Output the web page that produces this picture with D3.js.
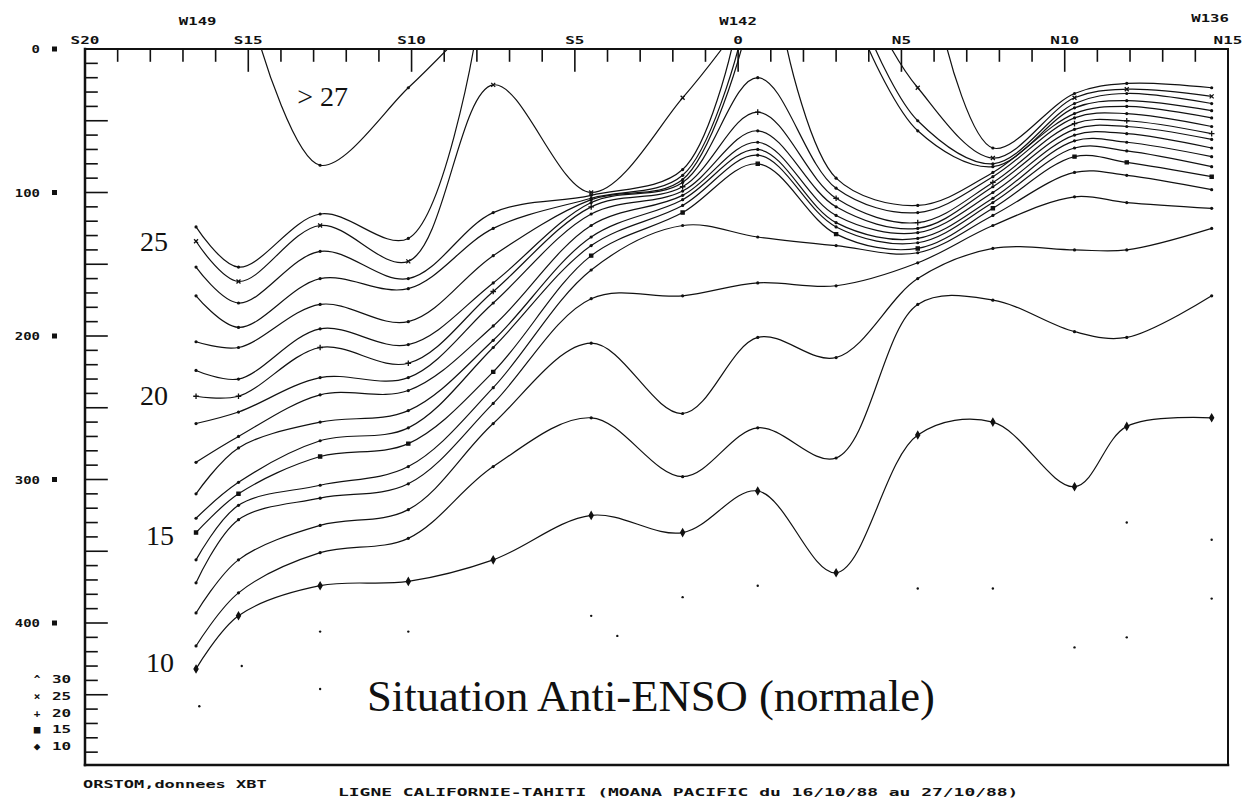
<!DOCTYPE html>
<html>
<head>
<meta charset="utf-8">
<script src="https://cdn.jsdelivr.net/npm/d3@7.9.0/dist/d3.min.js"></script>
<style>
  body { margin: 0; background: #fff; }
  svg { display: block; }
  .plotter { font-family: "DejaVu Sans Mono", monospace; font-weight: bold; fill: #111; }
  .serif { font-family: "Liberation Serif", "Times New Roman", serif; fill: #111; }
</style>
</head>
<body>
<svg id="chart" width="1246" height="802"></svg>
<script>
// XBT station latitudes (deg, negative = south)
const stationLat = [-16.6, -15.3, -12.8, -10.1, -7.5, -4.5, -1.7, 0.6, 3.0, 5.5, 7.8, 10.3, 11.9, 14.5];

// isotherm depth (m) at each station, null where the isotherm is absent
const iso10 = [432, 395, 374, 371, 356, 325, 337, 308, 365, 269, 260, 305, 263, 257];
const iso11 = [416, 379, 351, 341, 291, 257, 298, 264, 285, 178, 175, 197, 201, 172];
const iso12 = [393, 356, 332, 321, 261, 205, 254, 201, 215, 160, 139, 140, 140, 125];
const iso13 = [372, 328, 313, 303, 247, 174, 172, 163, 165, 149, 123, 103, 107, 111];
const iso14 = [356, 318, 304, 291, 236, 154, 123, 131, 137, 142, 116, 86, 88, 98];
const iso15 = [337, 310, 284, 275, 225, 144, 114, 80, 129, 139, 111, 75, 79, 89];
const iso16 = [327, 302, 273, 264, 208, 137, 109, 74, 124, 135, 107, 69, 71, 82];
const iso17 = [310, 278, 260, 252, 203, 131, 105, 70, 121, 132, 104, 64, 65, 75];
const iso18 = [288, 270, 241, 238, 193, 123, 102, 65, 116, 128, 100, 60, 59, 69];
const iso19 = [261, 253, 229, 229, 177, 115, 99, 57, 110, 125, 96, 56, 54, 63];
const iso20 = [242, 242, 208, 219, 169, 110, 96, 44, 104, 121, 93, 52, 50, 59];
const iso21 = [224, 230, 195, 206, 163, 107, 93, 20, 97, 114, 89, 48, 45, 54];
const iso22 = [204, 208, 178, 190, 144, 105, 91, null, 90, 109, 86, 45, 40, 48];
const iso23 = [172, 194, 160, 167, 125, 104, 88, null, null, 57, 82, 41, 36, 43];
const iso24 = [152, 177, 141, 160, 114, 102, 84, null, null, 50, 80, 38, 31, 38];
const iso25 = [134, 162, 123, 148, 25, 100, 34, null, null, 27, 76, 34, 28, 33];
const iso26 = [124, 152, 115, 132, null, null, null, null, null, null, 69, 31, 24, 27];
const iso27 = [null, null, 81, 27, null, null, null, null, null, null, null, null, null, null];

// latitudes where an isotherm outcrops at the surface
const iso22Surface = [0.1, 1.5];
const iso23Surface = [0.0, 4.0];
const iso24Surface = [-0.2, 4.2];
const iso25Surface = [-0.5, 4.7];
const iso26Surface = [-8.1, 6.4];
const iso27Surface = [-14.6, -8.9];

// isolated deep measurements
const deepLat = [-16.5, -15.2, -12.8, -12.8, -10.1, -4.5, -3.7, -1.7, 0.6, 5.5, 7.8, 10.3, 11.9, 11.9, 14.5, 14.5];
const deepDepth = [458, 430, 406, 446, 406, 395, 409, 382, 374, 376, 376, 417, 330, 410, 342, 383];

const latTicks = [-20, -15, -10, -5, 0, 5, 10, 15];
const latLabels = ['S20', 'S15', 'S10', 'S5', '0', 'N5', 'N10', 'N15'];
const lonLat = [-16.55, 0, 14.45];
const lonLabels = ['W149', 'W142', 'W136'];
const depthLabels = [0, 100, 200, 300, 400];
const legendSymbols = ['^', '×', '+', '■', '◆'];
const legendTemps = [30, 25, 20, 15, 10];

const isotherms = [
  { t: 10, d: iso10, s: [] }, { t: 11, d: iso11, s: [] }, { t: 12, d: iso12, s: [] },
  { t: 13, d: iso13, s: [] }, { t: 14, d: iso14, s: [] }, { t: 15, d: iso15, s: [] },
  { t: 16, d: iso16, s: [] }, { t: 17, d: iso17, s: [] }, { t: 18, d: iso18, s: [] },
  { t: 19, d: iso19, s: [] }, { t: 20, d: iso20, s: [] }, { t: 21, d: iso21, s: [] },
  { t: 22, d: iso22, s: iso22Surface }, { t: 23, d: iso23, s: iso23Surface },
  { t: 24, d: iso24, s: iso24Surface }, { t: 25, d: iso25, s: iso25Surface },
  { t: 26, d: iso26, s: iso26Surface }, { t: 27, d: iso27, s: iso27Surface },
];

// plot frame
const plotLeft = 85, plotRight = 1228, plotTop = 49, plotBottom = 765;
const x = d3.scaleLinear().domain([-20, 15]).range([plotLeft, plotRight]);
const y = d3.scaleLinear().domain([0, 500]).range([plotTop, 766.5]);

const svg = d3.select('#chart');
svg.append('rect').attr('width', 1246).attr('height', 802).attr('fill', '#fff');

svg.append('clipPath').attr('id', 'plot')
  .append('rect').attr('x', plotLeft).attr('y', plotTop)
  .attr('width', plotRight - plotLeft).attr('height', plotBottom - plotTop);

// split an isotherm into branches, breaking between two surface outcrops
function segments(depths, surface) {
  const pts = [];
  depths.forEach((d, i) => { if (d != null) pts.push({ lat: stationLat[i], depth: d, station: true }); });
  surface.forEach((l) => pts.push({ lat: l, depth: 0, station: false }));
  pts.sort((a, b) => a.lat - b.lat);
  const segs = [];
  let cur = [];
  pts.forEach((p, i) => {
    if (i > 0 && !p.station && !pts[i - 1].station) { segs.push(cur); cur = []; }
    cur.push(p);
  });
  if (cur.length) segs.push(cur);
  return segs;
}

const line = d3.line()
  .x((d) => x(d.lat))
  .y((d) => y(d.depth))
  .curve(d3.curveCatmullRom.alpha(0.5));

const plot = svg.append('g').attr('clip-path', 'url(#plot)');

isotherms.forEach((iso) => {
  segments(iso.d, iso.s).forEach((seg) => {
    plot.append('path')
      .attr('d', line(seg))
      .attr('fill', 'none')
      .attr('stroke', '#111')
      .attr('stroke-width', 1.2);
  });
});

// station markers (symbol depends on temperature, as in the legend)
const markerFor = (t) => {
  if (t === 10) return { type: d3.symbolDiamond, size: 14, fill: true };
  if (t === 15) return { type: d3.symbolSquare, size: 10, fill: true };
  if (t === 20) return { type: d3.symbolPlus, size: 12, fill: false };
  if (t === 25) return { type: d3.symbolTimes, size: 12, fill: false };
  return null;
};

isotherms.forEach((iso) => {
  const pts = iso.d.map((d, i) => ({ lat: stationLat[i], depth: d })).filter((p) => p.depth != null);
  const m = markerFor(iso.t);
  pts.forEach((p) => {
    if (m) {
      plot.append('path')
        .attr('d', d3.symbol().type(m.type).size(m.size)())
        .attr('transform', `translate(${x(p.lat)},${y(p.depth)})`)
        .attr('fill', m.fill ? '#111' : 'none')
        .attr('stroke', '#111')
        .attr('stroke-width', 1.3);
    } else {
      plot.append('circle')
        .attr('cx', x(p.lat)).attr('cy', y(p.depth))
        .attr('r', 1.6).attr('fill', '#111');
    }
  });
});

plot.selectAll('circle.deep')
  .data(deepLat.map((l, i) => [l, deepDepth[i]]))
  .join('circle')
  .attr('class', 'deep')
  .attr('cx', (d) => x(d[0])).attr('cy', (d) => y(d[1]))
  .attr('r', 1.2).attr('fill', '#111');

// frame
const frame = svg.append('g').attr('stroke', '#111').attr('stroke-linecap', 'square');
frame.append('line').attr('x1', plotLeft).attr('x2', plotRight).attr('y1', plotTop).attr('y2', plotTop).attr('stroke-width', 2);
frame.append('line').attr('x1', plotLeft).attr('x2', plotRight).attr('y1', plotBottom).attr('y2', plotBottom).attr('stroke-width', 2.5);
frame.append('line').attr('x1', plotLeft).attr('x2', plotLeft).attr('y1', plotTop).attr('y2', plotBottom).attr('stroke-width', 2.5);
frame.append('line').attr('x1', plotRight).attr('x2', plotRight).attr('y1', plotTop).attr('y2', plotBottom).attr('stroke-width', 2);

// latitude ticks (inside, from the top edge)
frame.selectAll('line.xt')
  .data(d3.range(-19, 15))
  .join('line')
  .attr('class', 'xt')
  .attr('x1', (d) => x(d)).attr('x2', (d) => x(d))
  .attr('y1', plotTop).attr('y2', (d) => plotTop + (d % 5 === 0 ? 22 : 12))
  .attr('stroke-width', 1.6);

// depth ticks (inside, from the left edge)
frame.selectAll('line.yt')
  .data(d3.range(10, 500, 10))
  .join('line')
  .attr('class', 'yt')
  .attr('x1', plotLeft).attr('x2', (d) => plotLeft + (d % 50 === 0 ? 22 : 12))
  .attr('y1', (d) => y(d)).attr('y2', (d) => y(d))
  .attr('stroke-width', 1.6);

// wide plotter-style text: each glyph stretched to about 10px
function plotter(sel, str, size, perChar) {
  return sel.attr('class', 'plotter')
    .attr('font-size', size)
    .attr('textLength', String(str).length * perChar)
    .attr('lengthAdjust', 'spacingAndGlyphs')
    .text(str);
}

latTicks.forEach((t, i) => {
  plotter(svg.append('text'), latLabels[i], 11, 9.6)
    .attr('x', x(t)).attr('y', 44).attr('text-anchor', 'middle');
});

lonLat.forEach((l, i) => {
  plotter(svg.append('text'), lonLabels[i], 11, 9.4)
    .attr('x', x(l)).attr('y', i === 2 ? 22 : 25).attr('text-anchor', 'middle');
});

// depth labels with square markers
depthLabels.forEach((d) => {
  plotter(svg.append('text'), d, 11, 8.4)
    .attr('x', 40).attr('y', y(d) + 4).attr('text-anchor', 'end');
});

svg.selectAll('rect.dep')
  .data(depthLabels)
  .join('rect')
  .attr('class', 'dep')
  .attr('x', 52).attr('y', (d) => y(d) - 2.5)
  .attr('width', 5).attr('height', 5)
  .attr('fill', '#111');

// symbol legend
legendTemps.forEach((t, i) => {
  const ly = 683 + i * 16.8;
  svg.append('text').attr('class', 'plotter')
    .attr('x', 37).attr('y', ly).attr('text-anchor', 'middle')
    .attr('font-size', 11).text(legendSymbols[i]);
  plotter(svg.append('text'), t, 11, 9.6).attr('x', 52).attr('y', ly);
});

// isotherm annotations
svg.append('text').attr('class', 'serif')
  .attr('x', x(-13.5)).attr('y', 106).attr('font-size', 28).text('> 27');
[[25, 251], [20, 405], [15, 545], [10, 672]].forEach(([t, by]) => {
  svg.append('text').attr('class', 'serif')
    .attr('x', t >= 20 ? 140 : 146).attr('y', by)
    .attr('font-size', 28).text(t);
});

svg.append('text').attr('class', 'serif')
  .attr('x', 367).attr('y', 711)
  .attr('font-size', 44)
  .attr('textLength', 568).attr('lengthAdjust', 'spacingAndGlyphs')
  .text('Situation Anti-ENSO (normale)');

// footer
plotter(svg.append('text'), 'ORSTOM,donnees XBT', 11, 10.2)
  .attr('x', 83).attr('y', 788);

plotter(svg.append('text'), 'LIGNE CALIFORNIE-TAHITI (MOANA PACIFIC du 16/10/88 au 27/10/88)', 11, 10.8)
  .attr('x', 338).attr('y', 796);
</script>
</body>
</html>
